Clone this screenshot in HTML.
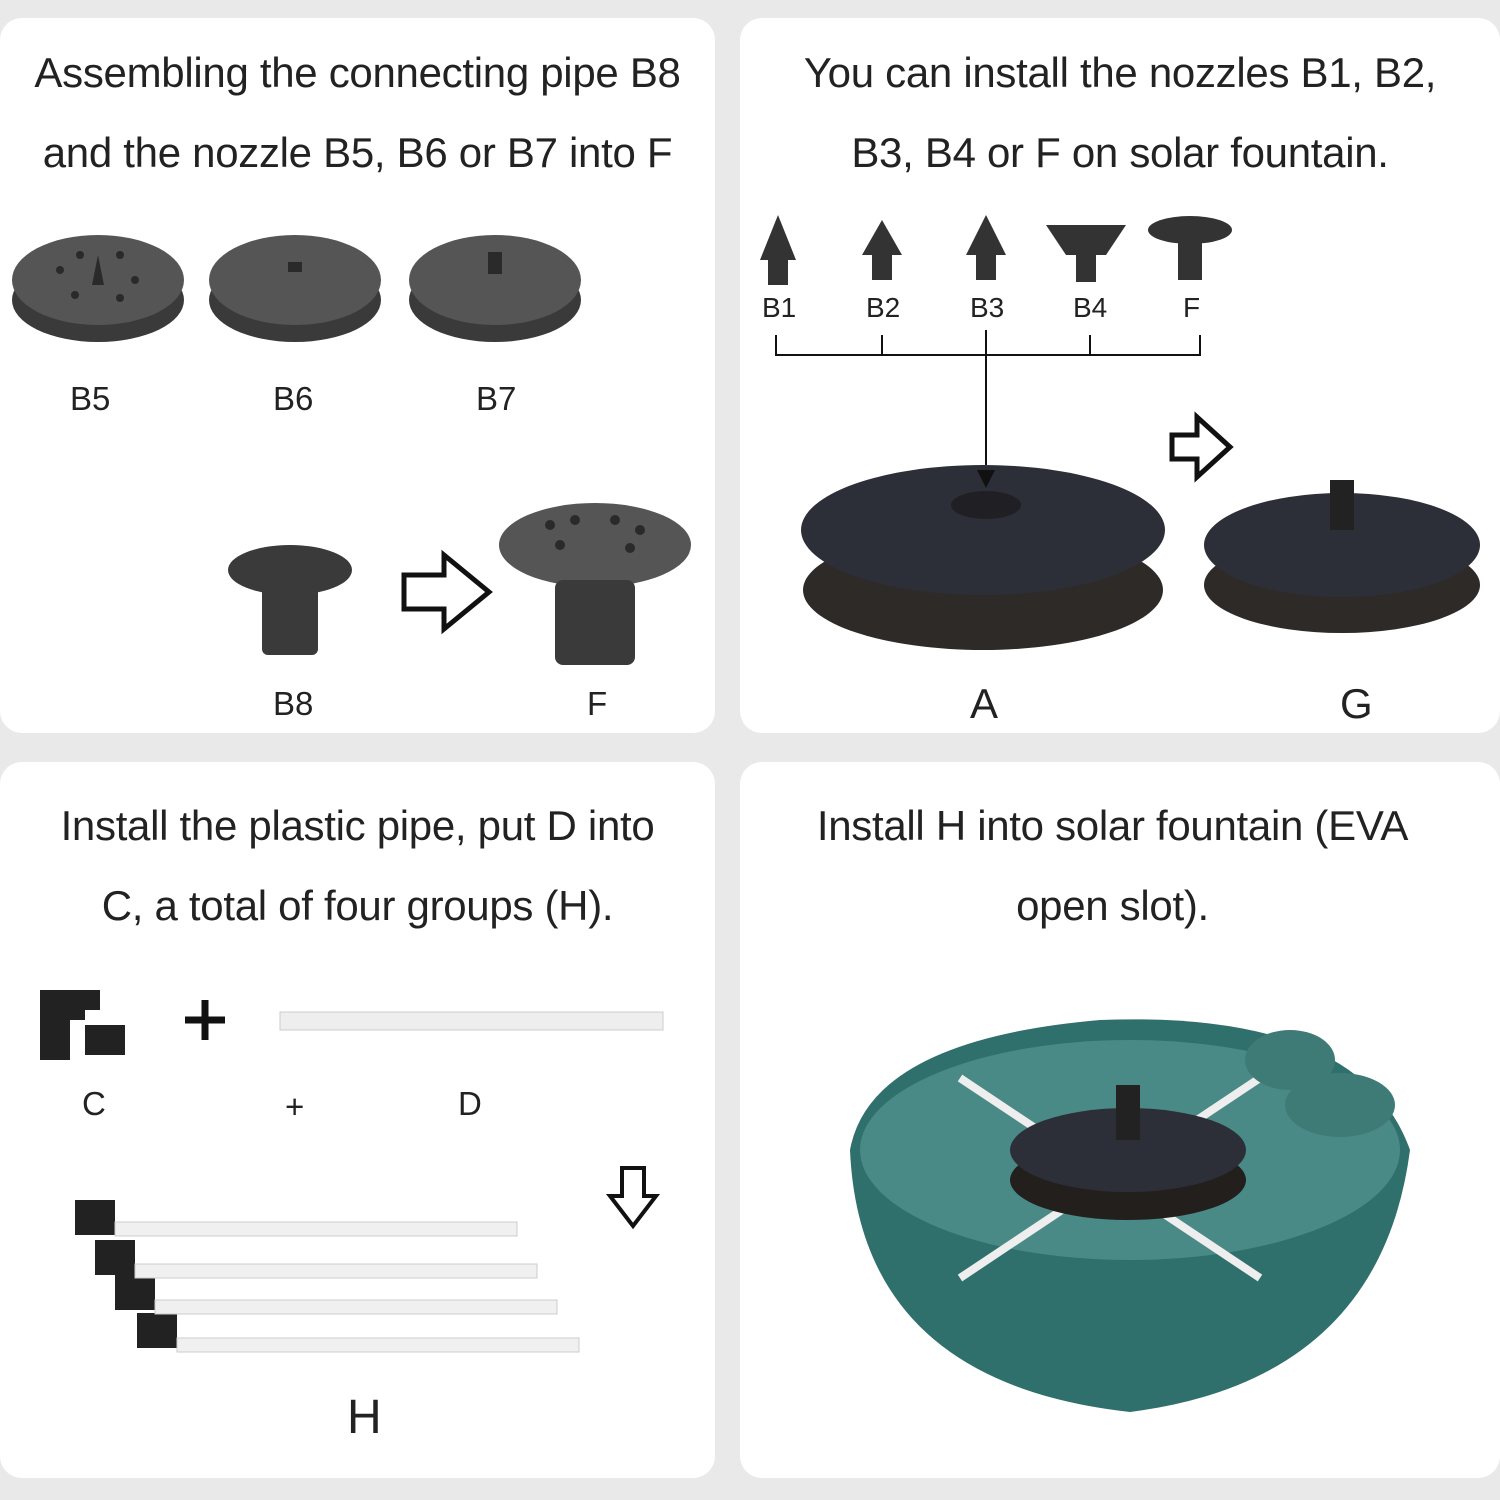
<!DOCTYPE html>
<html><head><style>
body{margin:0;width:1500px;height:1500px;background:#e9e9e9;position:relative;overflow:hidden;font-family:"Liberation Sans",sans-serif;}
.p{position:absolute;background:#fff;border-radius:22px;}
.t{position:absolute;color:#222;font-size:42px;text-align:center;line-height:80px;letter-spacing:-0.3px}
.l{position:absolute;font-size:33px;color:#222;}
svg{position:absolute;left:0;top:0}
</style></head><body>
<div class="p" style="left:0;top:18px;width:715px;height:715px"></div>
<div class="p" style="left:740px;top:18px;width:760px;height:715px"></div>
<div class="p" style="left:0;top:762px;width:715px;height:716px"></div>
<div class="p" style="left:740px;top:762px;width:760px;height:716px"></div>
<div class="t" style="left:0;top:33px;width:715px">Assembling the connecting pipe B8<br>and the nozzle B5, B6 or B7 into F</div>
<div class="t" style="left:740px;top:33px;width:760px">You can install the nozzles B1, B2,<br>B3, B4 or F on solar fountain.</div>
<div class="t" style="left:0;top:786px;width:715px">Install the plastic pipe, put D into<br>C, a total of four groups (H).</div>
<div class="t" style="left:740px;top:786px;width:745px">Install H into solar fountain (EVA<br>open slot).</div>
<div class="l" style="left:70px;top:380px">B5</div><div class="l" style="left:273px;top:380px">B6</div><div class="l" style="left:476px;top:380px">B7</div>
<div class="l" style="left:273px;top:685px">B8</div><div class="l" style="left:587px;top:685px">F</div>
<div class="l" style="left:762px;top:292px;font-size:28px">B1</div><div class="l" style="left:866px;top:292px;font-size:28px">B2</div><div class="l" style="left:970px;top:292px;font-size:28px">B3</div><div class="l" style="left:1073px;top:292px;font-size:28px">B4</div><div class="l" style="left:1183px;top:292px;font-size:28px">F</div>
<div class="l" style="left:970px;top:680px;font-size:42px">A</div><div class="l" style="left:1340px;top:680px;font-size:42px">G</div>
<div class="l" style="left:82px;top:1085px">C</div><div class="l" style="left:285px;top:1088px">+</div><div class="l" style="left:458px;top:1085px">D</div>
<div class="l" style="left:347px;top:1390px;font-size:48px">H</div>
<svg width="1500" height="1500">
<g fill="#3a3a3a">
<ellipse cx="98" cy="300" rx="86" ry="42"/><ellipse cx="98" cy="280" rx="86" ry="45" fill="#555"/>
<ellipse cx="295" cy="300" rx="86" ry="42"/><ellipse cx="295" cy="280" rx="86" ry="45" fill="#555"/>
<ellipse cx="495" cy="300" rx="86" ry="42"/><ellipse cx="495" cy="280" rx="86" ry="45" fill="#555"/>
<ellipse cx="290" cy="570" rx="62" ry="25"/><rect x="262" y="580" width="56" height="75" rx="6"/>
<ellipse cx="595" cy="545" rx="96" ry="42" fill="#555"/><rect x="555" y="580" width="80" height="85" rx="8"/>
</g>
<g fill="#2a2a2a"><circle cx="60" cy="270" r="4"/><circle cx="80" cy="255" r="4"/><circle cx="120" cy="255" r="4"/><circle cx="135" cy="280" r="4"/><circle cx="75" cy="295" r="4"/><circle cx="120" cy="298" r="4"/>
<circle cx="550" cy="525" r="5"/><circle cx="575" cy="520" r="5"/><circle cx="615" cy="520" r="5"/><circle cx="640" cy="530" r="5"/><circle cx="560" cy="545" r="5"/><circle cx="630" cy="548" r="5"/>
<path d="M92 285l6-30 6 30z"/><rect x="288" y="262" width="14" height="10"/><rect x="488" y="252" width="14" height="22"/></g>
<path d="M404 575h40v-20l45 37-45 37v-20h-40z" fill="none" stroke="#111" stroke-width="5"/>
<g fill="#333"><path d="M760 260l18-45 18 45z"/><path d="M862 255l20-35 20 35z"/><path d="M966 255l20-40 20 40z"/><path d="M1046 225h80l-20 30h-40z"/><ellipse cx="1190" cy="230" rx="42" ry="14"/><rect x="1178" y="240" width="24" height="40"/>
<rect x="768" y="255" width="20" height="30"/><rect x="872" y="250" width="20" height="30"/><rect x="976" y="250" width="20" height="30"/><rect x="1076" y="250" width="20" height="32"/></g>
<path d="M776 335v20h424v-20M882 335v20M986 330v135M1090 335v20" fill="none" stroke="#111" stroke-width="2"/>
<ellipse cx="983" cy="590" rx="180" ry="60" fill="#2e2a28"/><ellipse cx="983" cy="530" rx="182" ry="65" fill="#2d2f38"/>
<ellipse cx="986" cy="505" rx="35" ry="14" fill="#1f1f24"/>
<path d="M977 470l9 18 9-18z" fill="#111"/>
<ellipse cx="1342" cy="585" rx="138" ry="48" fill="#2e2a28"/><ellipse cx="1342" cy="545" rx="138" ry="52" fill="#2d2f38"/>
<rect x="1330" y="480" width="24" height="50" fill="#222"/>
<path d="M1172 435h25v-18l33 30-33 30v-18h-25z" fill="none" stroke="#111" stroke-width="5"/>
<path d="M40 990h60v20h-15v15h40v30h-40v-35h-15v40h-30z" fill="#222"/>
<path d="M185 1020h40M205 1000v40" stroke="#111" stroke-width="7"/>
<rect x="280" y="1012" width="383" height="18" fill="#eee" stroke="#ccc"/>
<path d="M622 1168h22v28h12l-23 30-23-30h12z" fill="none" stroke="#111" stroke-width="4"/>
<g fill="#222"><rect x="75" y="1200" width="40" height="35"/><rect x="95" y="1240" width="40" height="35"/><rect x="115" y="1275" width="40" height="35"/><rect x="137" y="1313" width="40" height="35"/></g>
<g fill="#f0f0f0" stroke="#ccc"><rect x="115" y="1222" width="402" height="14"/><rect x="135" y="1264" width="402" height="14"/><rect x="155" y="1300" width="402" height="14"/><rect x="177" y="1338" width="402" height="14"/></g>
<path d="M850 1150q20-110 250-130q260-10 310 130q-30 230-280 262q-270-30-280-262z" fill="#2f6f6c"/>
<ellipse cx="1130" cy="1150" rx="270" ry="110" fill="#4a8a86"/>
<path d="M960 1078l300 200M1260 1078l-300 200" stroke="#eee" stroke-width="8"/>
<ellipse cx="1128" cy="1180" rx="118" ry="40" fill="#221f1d"/><ellipse cx="1128" cy="1150" rx="118" ry="42" fill="#2d2f38"/>
<rect x="1116" y="1085" width="24" height="55" fill="#222"/>
<ellipse cx="1290" cy="1060" rx="45" ry="30" fill="#3f7b76"/><ellipse cx="1340" cy="1105" rx="55" ry="32" fill="#3f7b76"/>
</svg>
</body></html>
